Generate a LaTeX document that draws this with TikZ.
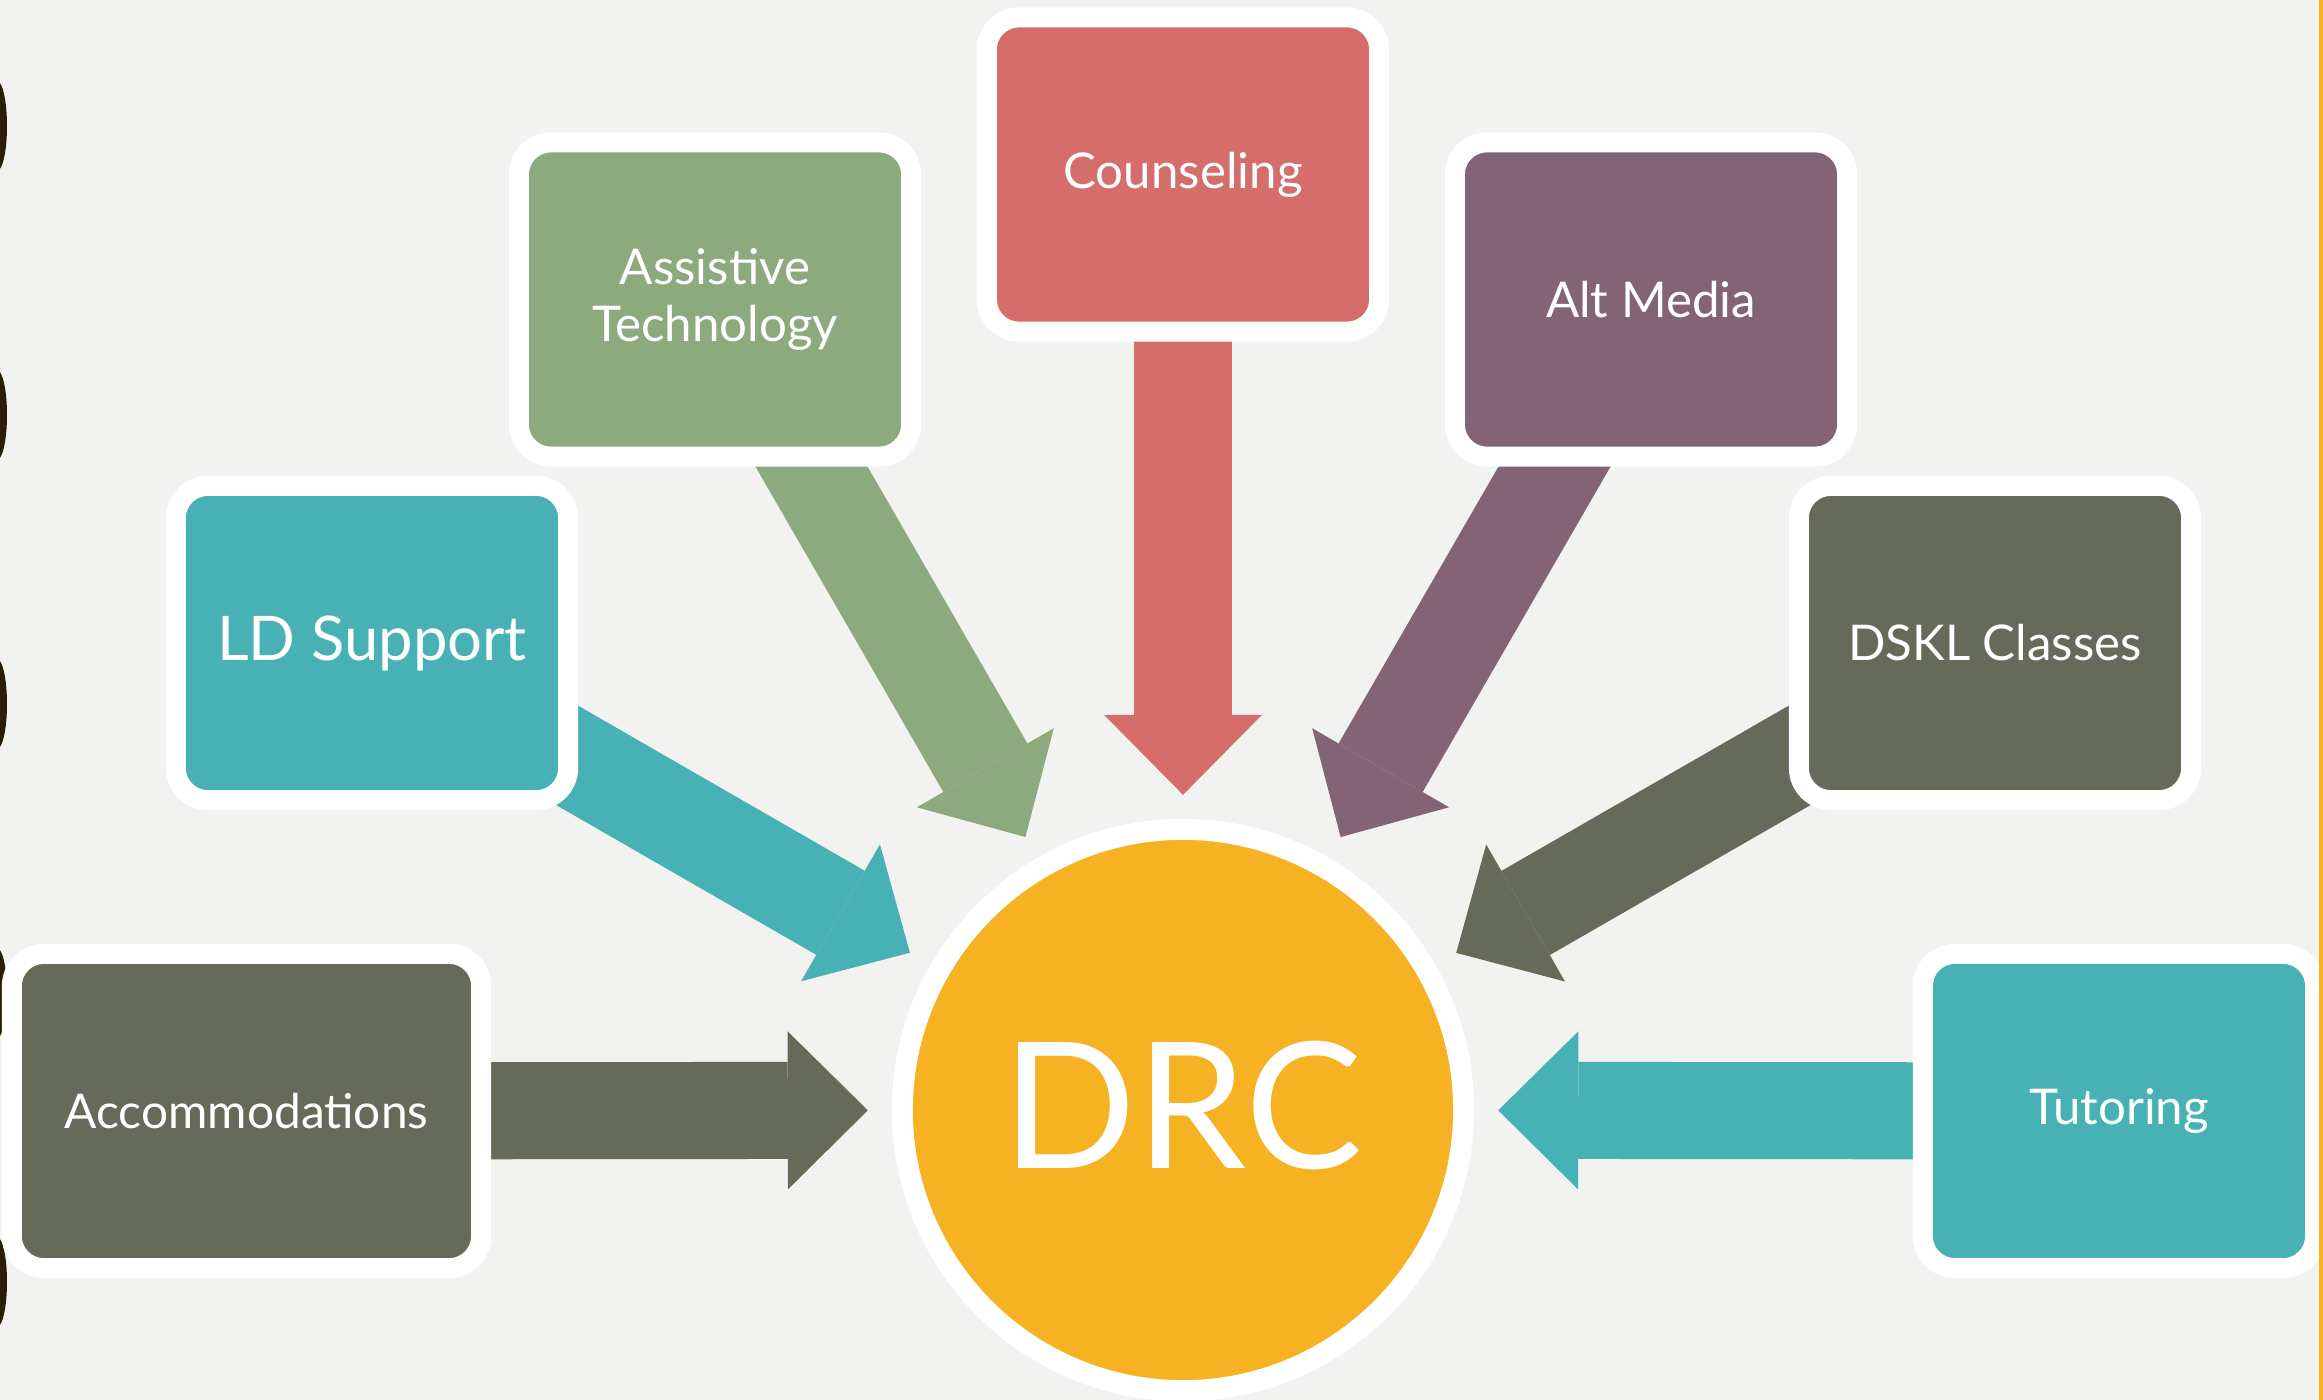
\documentclass[tikz,border=0pt]{standalone}
\usepackage{fontspec}
\setmainfont{Lato}
\usetikzlibrary{arrows.meta,calc}
\definecolor{paper}{HTML}{F2F2F0}
\definecolor{tealc}{HTML}{48B1B5}
\definecolor{sage}{HTML}{8DAA7E}
\definecolor{coral}{HTML}{D56E6A}
\definecolor{plum}{HTML}{836475}
\definecolor{slate}{HTML}{666A59}
\definecolor{amber}{HTML}{F6B223}
\definecolor{ink}{HTML}{2B1E08}
\pgfdeclarelayer{back}\pgfdeclarelayer{links}
\pgfsetlayers{back,links,main}
\begin{document}
\begin{tikzpicture}[x=0.01cm,y=-0.01cm,
    card/.style={draw=white,line width=0.2cm,rounded corners=0.32cm,minimum width=3.92cm,minimum height=3.14cm,
      inner sep=0pt,text=white,align=center,font=\fontsize{14}{16}\selectfont},
    feed/.style={line width=0.97cm,-{Triangle[width=1.58cm,length=0.8cm,line width=0pt]}}]
  \useasboundingbox (0,0) rectangle (2323,1400);
  \begin{pgfonlayer}{back}
    \fill[paper] (0,0) rectangle (2323,1400);
    \foreach \y in {126,415,704,993,1282} \fill[ink] (-3,\y) ellipse (10 and 45);
  \end{pgfonlayer}
  \node[card,fill=slate,minimum width=4.69cm,font=\fontsize{13.6}{16}\selectfont] (acc) at (246.5,1111) {Accommodations};
  \node[card,fill=tealc,font=\fontsize{17.5}{20}\selectfont] (ld) at (372,643) {LD Support};
  \node[card,fill=sage] (at) at (715,299.5) {Assistive\\Technology};
  \node[card,fill=coral] (cou) at (1183,174.5) {Counseling};
  \node[card,fill=plum] (alt) at (1651,299.5) {Alt Media};
  \node[card,fill=slate] (dskl) at (1995,643) {DSKL Classes};
  \node[card,fill=tealc] (tut) at (2119,1111) {Tutoring};
  \node[circle,fill=amber,draw=white,line width=0.21cm,minimum size=5.61cm,inner sep=0pt,
    text=white,font=\fontsize{50}{50}\selectfont] (drc) at (1183,1110) {\raisebox{0.1cm}{DRC}};
  \begin{pgfonlayer}{links}
    \foreach \b/\c in {acc/slate,ld/tealc,at/sage,cou/coral,alt/plum,dskl/slate,tut/tealc}
      \draw[feed,\c] (\b.center) -- ($(drc.center)!3.15cm!(\b.center)$);
  \end{pgfonlayer}
  \fill[amber] (2319,0) rectangle (2323,1400);
\end{tikzpicture}
\end{document}
